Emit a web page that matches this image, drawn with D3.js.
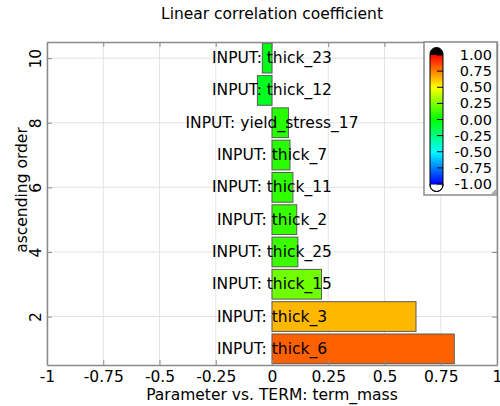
<!DOCTYPE html>
<html><head><meta charset="utf-8">
<script src="https://cdn.jsdelivr.net/npm/d3@7"></script>
<style>
body{margin:0;background:#fff;}
text{font-family:"DejaVu Sans",Verdana,sans-serif;}
</style></head>
<body><svg id="c" width="500" height="406"></svg>
<script>
const labels = ["INPUT: thick_6","INPUT: thick_3","INPUT: thick_15","INPUT: thick_25","INPUT: thick_2","INPUT: thick_11","INPUT: thick_7","INPUT: yield_stress_17","INPUT: thick_12","INPUT: thick_23"];
const values = [0.81, 0.64, 0.22, 0.115, 0.11, 0.093, 0.08, 0.073, -0.065, -0.043];
const order = [1,2,3,4,5,6,7,8,9,10];
const xTicks = [-1,-0.75,-0.5,-0.25,0,0.25,0.5,0.75,1];
const xTickLabels = ["-1","-0.75","-0.5","-0.25","0","0.25","0.5","0.75","1"];
const yTicks = [2,4,6,8,10];
const cbTicks = [1,0.75,0.5,0.25,0,-0.25,-0.5,-0.75,-1];
const cbLabels = ["1.00","0.75","0.50","0.25","0.00","-0.25","-0.50","-0.75","-1.00"];
const cmapStops = [-1,-0.5,0,0.5,1];
const cmapColors = ["#0000ff","#00ffff","#00ff00","#ffff00","#ff0000"];

const FS = 15.5;
const svg = d3.select("#c");
const L=47, R=497, T=42, B=365;
const x = d3.scaleLinear().domain([-1,1]).range([L,R]);
const y = d3.scaleLinear().domain([0.5,10.5]).range([B,T]);
const color = d3.scaleLinear().domain(cmapStops).range(cmapColors);
const axisCol = "#8a8a8a", gridCol = "#e4e4e4";

// grid
svg.append("g").selectAll("line").data(xTicks).join("line")
  .attr("x1",d=>x(d)).attr("x2",d=>x(d)).attr("y1",T).attr("y2",B)
  .attr("stroke",gridCol).attr("stroke-width",1);
svg.append("g").selectAll("line").data(yTicks).join("line")
  .attr("x1",L).attr("x2",R).attr("y1",d=>y(d)).attr("y2",d=>y(d))
  .attr("stroke",gridCol).attr("stroke-width",1);

// bars
const bh = Math.abs(y(0)-y(0.92));
svg.append("g").selectAll("rect").data(values).join("rect")
  .attr("x",d=>x(Math.min(0,d))).attr("width",d=>Math.abs(x(d)-x(0)))
  .attr("y",(d,i)=>y(order[i])-bh/2).attr("height",bh)
  .attr("fill",d=>color(d)).attr("stroke","#5a5a5a").attr("stroke-width",1);

// bar labels
svg.append("g").selectAll("text").data(labels).join("text")
  .attr("x",x(0)).attr("y",(d,i)=>y(order[i]))
  .attr("text-anchor","middle").attr("dominant-baseline","central")
  .attr("font-size",FS).attr("fill","#000").text(d=>d);

// axes (inward ticks)
const gx = svg.append("g").attr("transform",`translate(0,${B})`)
  .call(d3.axisBottom(x).tickValues(xTicks).tickFormat((d,i)=>xTickLabels[i]).tickSizeInner(-5).tickSizeOuter(0).tickPadding(6));
const gxt = svg.append("g").attr("transform",`translate(0,${T})`)
  .call(d3.axisTop(x).tickValues(xTicks).tickFormat("").tickSizeInner(-5).tickSizeOuter(0));
const gy = svg.append("g").attr("transform",`translate(${L},0)`)
  .call(d3.axisLeft(y).tickValues(yTicks).tickSizeInner(-5).tickSizeOuter(0));
const gyr = svg.append("g").attr("transform",`translate(${R},0)`)
  .call(d3.axisRight(y).tickValues(yTicks).tickFormat("").tickSizeInner(-5).tickSizeOuter(0));
[gx,gxt,gy,gyr].forEach(g=>{
  g.select(".domain").attr("stroke",axisCol).attr("stroke-width",1.5);
  g.selectAll(".tick line").attr("stroke",axisCol).attr("stroke-width",1);
  g.selectAll("text").attr("font-size",FS).attr("fill","#000").attr("font-family","DejaVu Sans, Verdana, sans-serif");
});
gx.selectAll(".tick text").attr("dy","0.71em");
gy.selectAll(".tick text").attr("text-anchor","middle").attr("dominant-baseline","central")
  .attr("x",0).attr("dy",null).attr("transform","translate(-11,0) rotate(-90)");

// titles
svg.append("text").attr("x",272).attr("y",19).attr("text-anchor","middle").attr("font-size",FS).text("Linear correlation coefficient");
svg.append("text").attr("x",272).attr("y",400).attr("text-anchor","middle").attr("font-size",FS).text("Parameter vs. TERM: term_mass");
svg.append("text").attr("transform","translate(22,190) rotate(-90)").attr("text-anchor","middle").attr("dominant-baseline","central").attr("font-size",FS).text("ascending order");

// legend
const lg = svg.append("g");
lg.append("rect").attr("x",424).attr("y",T).attr("width",73).attr("height",153).attr("fill","#fff").attr("stroke",axisCol).attr("stroke-width",1.5);
lg.append("path").attr("d","M491,194 L496,194 L496,189 Z").attr("fill","#aaa");
const cy = d3.scaleLinear().domain([-1,1]).range([184,55]);
const defs = svg.append("defs");
const grad = defs.append("linearGradient").attr("id","cg").attr("x1",0).attr("x2",0).attr("y1",1).attr("y2",0);
grad.selectAll("stop").data(cmapStops).join("stop")
  .attr("offset",d=>(d+1)/2).attr("stop-color",(d,i)=>cmapColors[i]);
const bx=430, bw=13;
lg.append("path").attr("d",`M${bx},${cy(1)} L${bx},${cy(1)-1} A${bw/2},${bw/2} 0 0 1 ${bx+bw},${cy(1)-1} L${bx+bw},${cy(1)} Z`).attr("fill","#000");
lg.append("path").attr("d",`M${bx},${cy(-1)} L${bx},${cy(-1)+1} A${bw/2},${bw/2} 0 0 0 ${bx+bw},${cy(-1)+1} L${bx+bw},${cy(-1)} Z`).attr("fill","#fff").attr("stroke","#000").attr("stroke-width",1);
lg.append("rect").attr("x",bx).attr("y",cy(1)).attr("width",bw).attr("height",cy(-1)-cy(1)).attr("fill","url(#cg)");
lg.append("path").attr("d",`M${bx},${cy(-1)+1} L${bx},${cy(1)-1} A${bw/2},${bw/2} 0 0 1 ${bx+bw},${cy(1)-1} L${bx+bw},${cy(-1)+1} A${bw/2},${bw/2} 0 0 1 ${bx},${cy(-1)+1} Z`).attr("fill","none").attr("stroke","#000").attr("stroke-width",1);
lg.selectAll("line.t").data(cbTicks).join("line").attr("class","t")
  .attr("x1",bx+bw-6).attr("x2",bx+bw).attr("y1",d=>cy(d)).attr("y2",d=>cy(d)).attr("stroke","#000").attr("stroke-width",1);
lg.selectAll("text").data(cbTicks).join("text")
  .attr("x",492).attr("y",d=>cy(d)).attr("text-anchor","end").attr("dominant-baseline","central")
  .attr("font-size",14.5).text((d,i)=>cbLabels[i]);
</script></body></html>
